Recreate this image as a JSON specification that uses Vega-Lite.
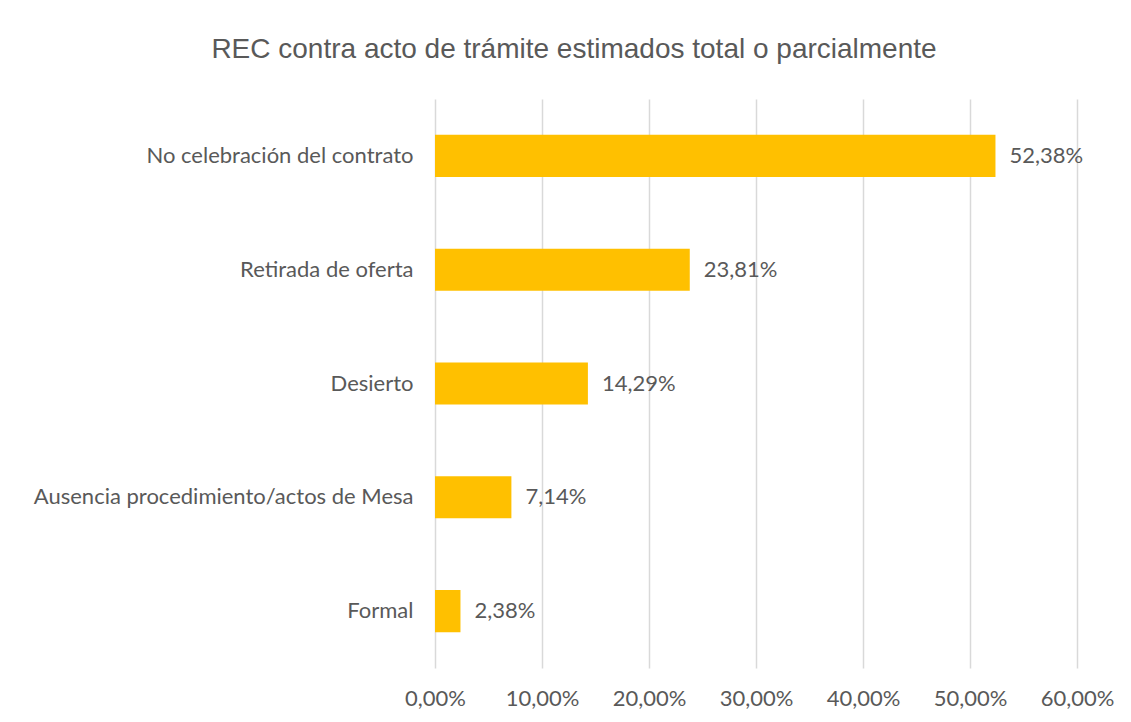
{
  "$schema": "https://vega.github.io/schema/vega-lite/v6.json",
  "width": 642,
  "height": 569,
  "autosize": "none",
  "padding": {"left": 435, "top": 99, "right": 54, "bottom": 54},
  "background": "white",
  "config": {
    "locale": {"number": {"decimal": ",", "thousands": ".", "grouping": [3], "currency": ["", " €"]}},
    "view": {"stroke": null},
    "font": "Lato"
  },
  "title": {
    "text": "REC contra acto de trámite estimados total o parcialmente",
    "font": "Liberation Sans",
    "fontSize": 28,
    "fontWeight": "normal",
    "color": "#595959",
    "anchor": "middle",
    "dx": -182,
    "baseline": "alphabetic",
    "offset": 13
  },
  "data": {
    "values": [
      {"categoria": "No celebración del contrato", "valor": 0.5238},
      {"categoria": "Retirada de oferta", "valor": 0.2381},
      {"categoria": "Desierto", "valor": 0.1429},
      {"categoria": "Ausencia procedimiento/actos de Mesa", "valor": 0.0714},
      {"categoria": "Formal", "valor": 0.0238}
    ]
  },
  "encoding": {
    "y": {
      "field": "categoria",
      "type": "nominal",
      "sort": null,
      "scale": {"paddingInner": 0.63, "paddingOuter": 0.315},
      "axis": {
        "title": null,
        "domain": false,
        "ticks": false,
        "grid": false,
        "labelPadding": 22,
        "labelFontSize": 22,
        "labelColor": "#595959",
        "labelFont": "Lato",
        "labelLimit": 500
      }
    },
    "x": {
      "field": "valor",
      "type": "quantitative",
      "scale": {"domain": [0, 0.6], "nice": false},
      "axis": {
        "title": null,
        "format": ".2%",
        "values": [0, 0.1, 0.2, 0.3, 0.4, 0.5, 0.6],
        "domain": false,
        "ticks": false,
        "grid": true,
        "gridColor": "#D9D9D9",
        "gridWidth": 1.5,
        "labelFlush": false,
        "labelPadding": 20,
        "labelFontSize": 22,
        "labelColor": "#595959",
        "labelFont": "Lato"
      }
    }
  },
  "layer": [
    {"mark": {"type": "bar", "color": "#FFC000"}},
    {
      "mark": {"type": "text", "align": "left", "dx": 14, "fontSize": 22, "color": "#595959", "font": "Lato"},
      "encoding": {"text": {"field": "valor", "type": "quantitative", "format": ".2%"}}
    }
  ]
}
